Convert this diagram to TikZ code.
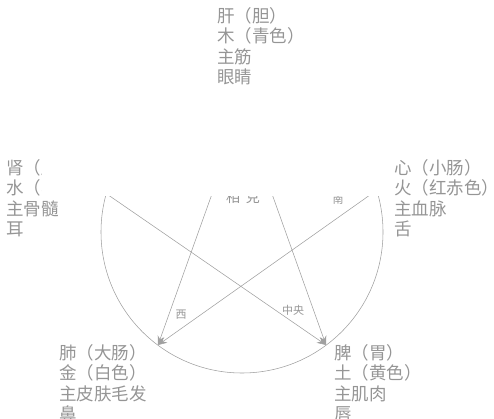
\documentclass[tikz,border=0pt]{standalone}
\usepackage{fontspec}
\newfontfamily\cjk{Noto Sans CJK SC}
\usetikzlibrary{arrows.meta}
\definecolor{ink}{HTML}{959595}
\definecolor{lineg}{HTML}{A0A0A0}
\tikzset{
  blocktxt/.style={text=ink, font=\cjk\fontsize{17.5}{20.5}\selectfont, align=left, anchor=north west, inner sep=0pt},
  smalltxt/.style={text=ink, font=\cjk\fontsize{11}{13}\selectfont, inner sep=0pt},
  starline/.style={draw=lineg, line width=0.55pt},
  arr/.style={starline, -{Stealth[length=9pt,width=7pt]}},
  mask/.style={fill=white, draw=none}
}
\begin{document}
\begin{tikzpicture}[x=1pt,y=-1pt]
\useasboundingbox (0,0) rectangle (494,419);
% circle
\draw[lineg, line width=0.55pt] (242,232) circle[radius=141];
% star vertices
\coordinate (T) at (242,110);
\coordinate (L) at (101,190);
\coordinate (R) at (377,190);
\coordinate (BL) at (158,345);
\coordinate (BR) at (326,345);
\draw[arr] (T) -- (BL);
\draw[arr] (T) -- (BR);
\draw[arr] (L) -- (BR);
\draw[arr] (R) -- (BL);
\draw[starline] (L) -- (R);
% small labels
\node[smalltxt] (xi) at (181,315) {西};
\node[smalltxt] (zy) at (293,310) {中央};
\node[smalltxt] (nan) at (338,199) {南};
\node[text=ink, font=\cjk\fontsize{14}{16}\selectfont, inner sep=0pt] (xk) at (243,197) {相\hspace{6pt}克};
% text blocks
\node[blocktxt] (gan) at (217,7) {肝（胆）\\木（青色）\\主筋\\眼睛};
\node[blocktxt] (shen) at (6,159) {肾（膀胱）\\水（黑色）\\主骨髓\\耳};
\node[blocktxt] (xin) at (394,159) {心（小肠）\\火（红赤色）\\主血脉\\舌};
\node[blocktxt] (fei) at (59,344) {肺（大肠）\\金（白色）\\主皮肤毛发\\鼻};
\node[blocktxt] (pi) at (334,344) {脾（胃）\\土（黄色）\\主肌肉\\唇};
% occluding white panel
\fill[mask] (59,90) rectangle (387,196);
\fill[mask] (42,158) rectangle (60,196);
\end{tikzpicture}
\end{document}
